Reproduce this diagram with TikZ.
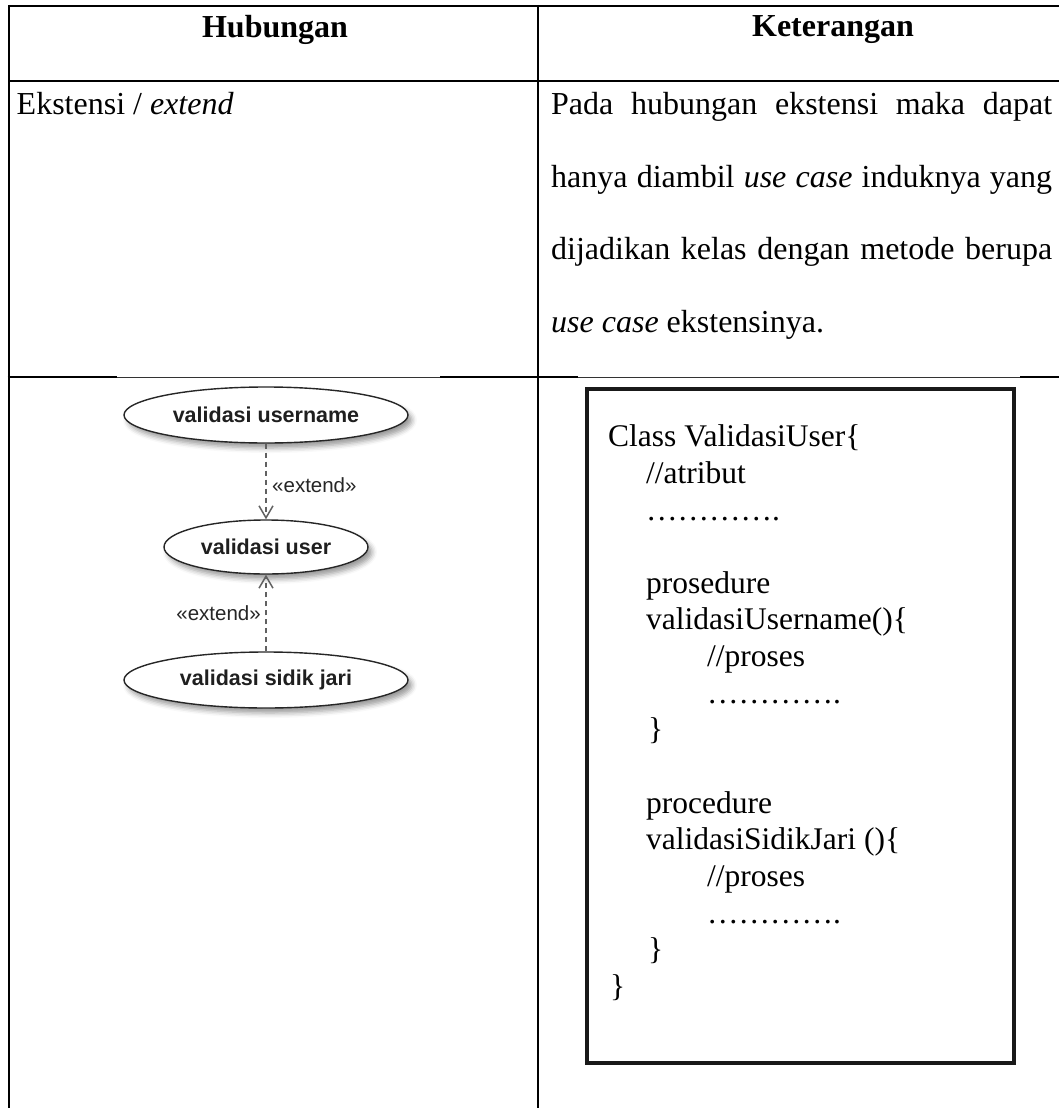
\documentclass[tikz,border=0pt]{standalone}
\usepackage{fontspec}
\setmainfont{Liberation Serif}
\setsansfont{Liberation Sans}
\usetikzlibrary{arrows.meta,shapes.geometric,shadows.blur}

\begin{document}
\begin{tikzpicture}[x=1pt,y=-1pt,
  rule/.style={line width=2pt},
  thinrule/.style={line width=1pt, black!80},
  head/.style={anchor=base, inner sep=0pt, font=\bfseries\fontsize{32}{38}\selectfont},
  body/.style={anchor=base west, inner sep=0pt, font=\fontsize{32}{38}\selectfont},
  code/.style={anchor=base west, inner sep=0pt, font=\fontsize{31.5}{36}\selectfont},
  codebox/.style={draw=black!90, line width=3.2pt, minimum width=427pt, minimum height=674pt, inner sep=0pt},
  usecase/.style={ellipse, draw=black!85, line width=1.4pt, fill=white, inner sep=0pt,
    font=\sffamily\bfseries\fontsize{21.5}{25}\selectfont, text=black!88,
    blur shadow={shadow xshift=4pt, shadow yshift=-5pt, shadow blur radius=5pt, shadow opacity=40}},
  extendline/.style={draw=black!62, line width=2.2pt, dash pattern=on 5pt off 4pt,
    -{Straight Barb[length=12pt,width=14pt,line width=1.5pt]}},
  stereo/.style={inner sep=0pt, font=\sffamily\fontsize{20.5}{24}\selectfont, text=black!85}
]
\useasboundingbox (0,0) rectangle (1059,1108);

% table rules
\draw[rule] (8.5,6) -- (1059,6);
\draw[rule] (8.5,81) -- (1059,81);
\draw[rule] (8.5,5) -- (8.5,1108);
\draw[rule] (538,5) -- (538,1108);
\draw[rule] (7.5,377) -- (117,377);
\draw[rule] (440,377) -- (578,377);
\draw[rule] (1020,377) -- (1059,377);
\draw[thinrule] (117,377) -- (440,377);
\draw[thinrule] (578,377) -- (1020,377);

% header row
\node[head] (h1) at (275,38) {Hubungan};
\node[head] (h2) at (833,37) {Keterangan};

% second row
\node[body] (rel) at (16.5,114) {Ekstensi / \textit{extend}};
\node[body] (k1) at (551,114) {\makebox[501pt][s]{Pada hubungan ekstensi maka dapat}};
\node[body] (k2) at (551,187) {\makebox[501pt][s]{hanya diambil \textit{use case} induknya yang}};
\node[body] (k3) at (551,259) {\makebox[501pt][s]{dijadikan kelas dengan metode berupa}};
\node[body] (k4) at (551,332) {\textit{use case} ekstensinya.};

% use case diagram
\node[usecase, minimum width=284pt, minimum height=56pt] (uname) at (266,415) {validasi username};
\node[usecase, minimum width=204pt, minimum height=54pt] (user) at (266,547) {validasi user};
\node[usecase, minimum width=284pt, minimum height=56pt] (sidik) at (266,680) {validasi sidik jari};
\draw[extendline] (uname.south) -- (user.north);
\draw[extendline] (sidik.north) -- (user.south);
\node[stereo, anchor=west] (lab1) at (272,485) {«extend»};
\node[stereo, anchor=east] (lab2) at (261,613) {«extend»};

% class sketch
\node[codebox] (box) at (800.5,726) {};
\node[code] (c1)  at (608,446) {Class ValidasiUser\{};
\node[code] (c2)  at (646,483) {//atribut};
\node[code] (c3)  at (646,520) {………….};
\node[code] (c5)  at (646,593) {prosedure};
\node[code] (c6)  at (646,629) {validasiUsername()\{};
\node[code] (c7)  at (707,666) {//proses};
\node[code] (c8)  at (707,703) {………….};
\node[code] (c9)  at (648,739) {\}};
\node[code] (c11) at (646,813) {procedure};
\node[code] (c12) at (646,849) {validasiSidikJari ()\{};
\node[code] (c13) at (707,886) {//proses};
\node[code] (c14) at (707,923) {………….};
\node[code] (c15) at (648,959) {\}};
\node[code] (c16) at (610,996) {\}};
\end{tikzpicture}
\end{document}
